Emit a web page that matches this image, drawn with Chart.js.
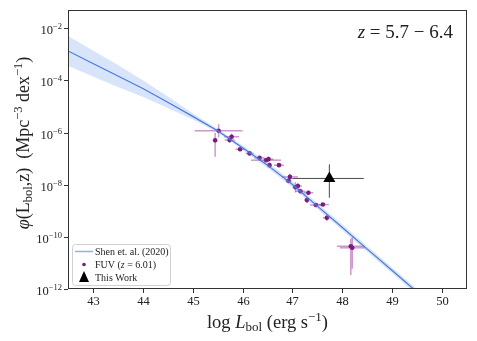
<!DOCTYPE html>
<html>
<head>
<meta charset="utf-8">
<script src="https://cdn.jsdelivr.net/npm/chart.js@4/dist/chart.umd.min.js"></script>
<style>
html, body { margin: 0; padding: 0; background: #fff; }
</style>
</head>
<body>
<canvas id="qlfChart" width="477" height="341"></canvas>
<script>
// Shen et al. (2020) curve, log10 phi
const shenX = [42.5, 43, 43.5, 44, 44.5, 45, 45.5, 46, 46.5, 47, 47.5, 48, 48.5, 49, 49.5];
const shenLog = [-2.87, -3.35, -3.83, -4.31, -4.84, -5.38, -5.93, -6.58, -7.25, -7.99, -8.82, -9.64, -10.47, -11.29, -12.12];
const shenHi = [-2.30, -2.85, -3.41, -3.99, -4.62, -5.26, -5.86, -6.50, -7.14, -7.88, -8.71, -9.53, -10.36, -11.18, -12.01];
const shenLo = [-3.44, -3.85, -4.25, -4.63, -5.06, -5.50, -6.00, -6.66, -7.36, -8.10, -8.93, -9.75, -10.58, -11.40, -12.23];

// FUV (z = 6.01) points
const fuvX = [45.52, 45.45, 45.78, 45.74, 45.95, 46.14, 46.34, 46.47, 46.52, 46.54, 46.73, 46.95, 46.92, 47.06, 47.11, 47.16, 47.32, 47.29, 47.47, 47.61, 47.69, 48.17, 48.20];
const fuvLog = [-5.93, -6.30, -6.16, -6.29, -6.64, -6.80, -6.97, -7.06, -7.02, -7.25, -7.25, -7.70, -7.85, -8.10, -8.05, -8.25, -8.31, -8.59, -8.78, -8.76, -9.27, -10.36, -10.42];
const fuvXErr = [0.48, 0.02, 0.15, 0.10, 0.09, 0.08, 0.10, 0.30, 0.10, 0.05, 0.10, 0.16, 0.06, 0.06, 0.08, 0.10, 0.10, 0.05, 0.12, 0.12, 0.08, 0.28, 0.25];
const fuvYErrUp = [0.25, 0.29, 0.12, 0.10, 0.08, 0.06, 0.06, 0.08, 0.10, 0.10, 0.06, 0.12, 0.10, 0.20, 0.12, 0.10, 0.08, 0.12, 0.08, 0.06, 0.12, 0.30, 0.40];
const fuvYErrDn = [0.25, 0.63, 0.12, 0.10, 0.08, 0.06, 0.06, 0.08, 0.10, 0.10, 0.06, 0.12, 0.10, 0.20, 0.12, 0.10, 0.08, 0.12, 0.08, 0.06, 0.12, 1.10, 0.80];

// This Work
const workX = [47.74];
const workLog = [-7.76];
const workXErrLo = [0.74];
const workXErrHi = [0.69];
const workYErrUp = [0.54];
const workYErrDn = [0.74];

const xTicks = [43, 44, 45, 46, 47, 48, 49, 50];
const yTicks = [-12, -10, -8, -6, -4, -2];

const SERIF = '"Liberation Serif", "DejaVu Serif", serif';

function pts(xs, ys) {
    return xs.map((v, i) => ({ x: v, y: ys[i] }));
}

function drawRuns(ctx, parts, x, y, align) {
    // parts: [text, size, dy, italic]
    let w = 0;
    parts.forEach(p => {
        ctx.font = (p[3] ? 'italic ' : '') + p[1] + 'px ' + SERIF;
        p.w = ctx.measureText(p[0]).width;
        w += p.w;
    });
    let cx = align === 'center' ? x - w / 2 : align === 'right' ? x - w : x;
    parts.forEach(p => {
        ctx.font = (p[3] ? 'italic ' : '') + p[1] + 'px ' + SERIF;
        ctx.fillText(p[0], cx, y + p[2]);
        cx += p.w;
    });
}

function drawErr(ctx, sx, sy, X, Y, xl, xh, yu, yd, color, lw) {
    ctx.strokeStyle = color;
    ctx.lineWidth = lw;
    X.forEach((v, i) => {
        const px = sx.getPixelForValue(v);
        const py = sy.getPixelForValue(Y[i]);
        ctx.beginPath();
        ctx.moveTo(sx.getPixelForValue(v - xl[i]), py);
        ctx.lineTo(sx.getPixelForValue(v + xh[i]), py);
        ctx.stroke();
        ctx.beginPath();
        ctx.moveTo(px, sy.getPixelForValue(Y[i] + yu[i]));
        ctx.lineTo(px, sy.getPixelForValue(Y[i] - yd[i]));
        ctx.stroke();
    });
}

const errorBars = {
    id: 'errorBars',
    beforeDatasetsDraw(chart) {
        const { ctx, chartArea: a, scales: { x, y } } = chart;
        ctx.save();
        ctx.beginPath();
        ctx.rect(a.left, a.top, a.width, a.height);
        ctx.clip();
        drawErr(ctx, x, y, fuvX, fuvLog, fuvXErr, fuvXErr, fuvYErrUp, fuvYErrDn, 'rgba(128,0,128,0.4)', 1.5);
        drawErr(ctx, x, y, workX, workLog, workXErrLo, workXErrHi, workYErrUp, workYErrDn, 'rgba(40,40,40,0.85)', 1);
        ctx.restore();
    }
};

const decor = {
    id: 'decor',
    afterDraw(chart) {
        const { ctx, chartArea: a, scales: { x, y } } = chart;
        ctx.save();
        ctx.strokeStyle = '#333';
        ctx.lineWidth = 1;
        ctx.strokeRect(a.left + 0.5, a.top + 0.5, a.width - 1, a.height - 1);

        ctx.fillStyle = '#222';
        ctx.textBaseline = 'alphabetic';
        // x ticks
        xTicks.forEach(t => {
            const px = Math.round(x.getPixelForValue(t)) + 0.5;
            ctx.beginPath();
            ctx.moveTo(px, a.bottom);
            ctx.lineTo(px, a.bottom + 4);
            ctx.stroke();
            drawRuns(ctx, [[String(t), 12.5, 0, false]], px, a.bottom + 16, 'center');
        });
        // y ticks
        yTicks.forEach(t => {
            const py = Math.round(y.getPixelForValue(t)) + 0.5;
            ctx.beginPath();
            ctx.moveTo(a.left - 4, py);
            ctx.lineTo(a.left, py);
            ctx.stroke();
            drawRuns(ctx, [['10', 12.5, 0, false], ['\u2212' + Math.abs(t), 8.5, -5, false]], a.left - 6, py + 5, 'right');
        });

        // axis labels
        drawRuns(ctx, [
            ['log ', 18.5, 0, false], ['L', 18.5, 0, true], ['bol', 13, 3, false],
            [' (erg s', 18.5, 0, false], ['\u22121', 13, -7, false], [')', 18.5, 0, false]
        ], (a.left + a.right) / 2, 328, 'center');

        ctx.save();
        ctx.translate(29, 143);
        ctx.rotate(-Math.PI / 2);
        drawRuns(ctx, [
            ['\u03C6', 18, 0, true], ['(L', 18, 0, false], ['bol', 12.5, 3, false], [',z)  (Mpc', 18, 0, false],
            ['\u22123', 12.5, -7, false], [' dex', 18, 0, false], ['\u22121', 12.5, -7, false], [')', 18, 0, false]
        ], 0, 0, 'center');
        ctx.restore();

        // redshift note
        drawRuns(ctx, [['z', 19, 0, true], [' = 5.7 \u2212 6.4', 19, 0, false]], a.right - 14, 38, 'right');

        // legend
        const lx = 72, ly = 244, lw = 98, lh = 41;
        ctx.beginPath();
        ctx.roundRect(lx + 0.5, ly + 0.5, lw, lh, 3);
        ctx.fillStyle = 'rgba(255,255,255,0.85)';
        ctx.fill();
        ctx.strokeStyle = '#d0d0d0';
        ctx.stroke();

        ctx.strokeStyle = '#8fb1ec';
        ctx.lineWidth = 1.5;
        ctx.beginPath();
        ctx.moveTo(75, 251.5);
        ctx.lineTo(93, 251.5);
        ctx.stroke();

        ctx.fillStyle = '#7a1a7a';
        ctx.beginPath();
        ctx.arc(84, 264.5, 1.8, 0, Math.PI * 2);
        ctx.fill();

        ctx.fillStyle = '#000';
        ctx.beginPath();
        ctx.moveTo(84, 271);
        ctx.lineTo(89, 282);
        ctx.lineTo(79, 282);
        ctx.closePath();
        ctx.fill();

        ctx.fillStyle = '#222';
        drawRuns(ctx, [['Shen et. al. (2020)', 10, 0, false]], 95, 254.5, 'left');
        drawRuns(ctx, [['FUV (', 10, 0, false], ['z', 10, 0, true], [' = 6.01)', 10, 0, false]], 95, 267.5, 'left');
        drawRuns(ctx, [['This Work', 10, 0, false]], 95, 280.5, 'left');
        ctx.restore();
    }
};

function crearGrafico() {
    const ctx = document.getElementById('qlfChart').getContext('2d');
    new Chart(ctx, {
        type: 'scatter',
        data: {
            datasets: [
                {
                    data: pts(shenX, shenHi),
                    showLine: true,
                    borderWidth: 0,
                    pointRadius: 0,
                    fill: false
                },
                {
                    data: pts(shenX, shenLo),
                    showLine: true,
                    borderWidth: 0,
                    pointRadius: 0,
                    fill: '-1',
                    backgroundColor: 'rgba(100,149,237,0.25)'
                },
                {
                    label: 'Shen et. al. (2020)',
                    data: pts(shenX, shenLog),
                    showLine: true,
                    borderColor: '#3f72d6',
                    borderWidth: 1.2,
                    pointRadius: 0,
                    fill: false
                },
                {
                    label: 'FUV (z = 6.01)',
                    data: pts(fuvX, fuvLog),
                    pointRadius: 2.3,
                    pointBackgroundColor: '#7a1a7a',
                    pointBorderWidth: 0
                },
                {
                    label: 'This Work',
                    data: pts(workX, workLog),
                    pointStyle: 'triangle',
                    pointRadius: 7,
                    pointBackgroundColor: '#000',
                    pointBorderColor: '#000',
                    pointBorderWidth: 0
                }
            ]
        },
        options: {
            responsive: false,
            animation: false,
            devicePixelRatio: 1,
            layout: { padding: { top: 10, right: 10, left: 0, bottom: 0 } },
            plugins: {
                legend: { display: false },
                tooltip: { enabled: false }
            },
            scales: {
                x: {
                    type: 'linear',
                    min: 42.5,
                    max: 50.5,
                    grid: { display: false },
                    border: { display: false },
                    ticks: { display: false },
                    afterFit: s => { s.height = 52; }
                },
                y: {
                    type: 'linear',
                    min: -12,
                    max: -1.3,
                    grid: { display: false },
                    border: { display: false },
                    ticks: { display: false },
                    afterFit: s => { s.width = 68; }
                }
            }
        },
        plugins: [errorBars, decor]
    });
}

document.addEventListener('DOMContentLoaded', crearGrafico);
</script>
</body>
</html>
